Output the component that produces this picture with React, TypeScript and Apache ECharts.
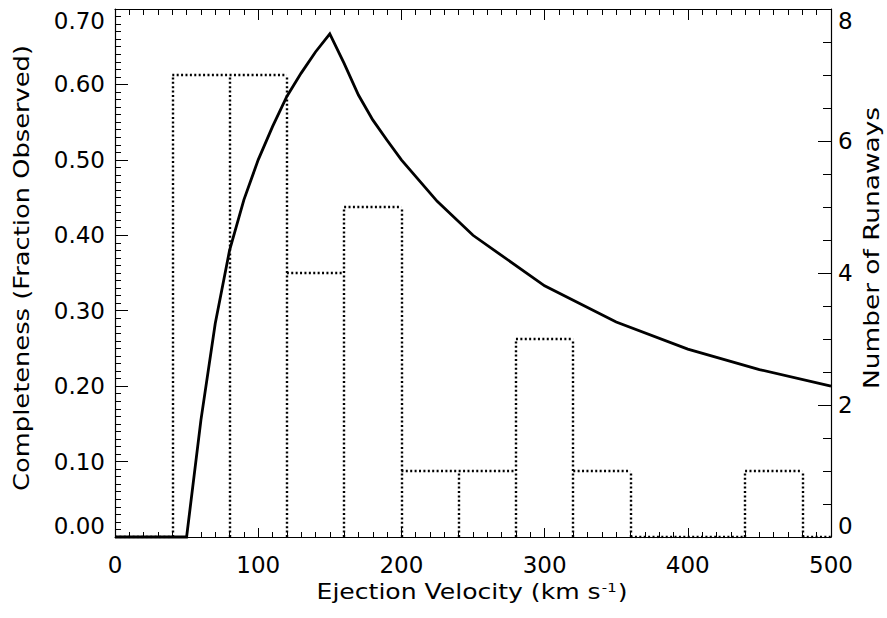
import React, { useEffect, useRef } from "react";
import * as echarts from "echarts";

// Completeness curve (solid line)
const velocity = [0, 50, 60, 70, 80, 90, 100, 110, 120, 130, 140, 150, 160, 170, 180, 190, 200, 225, 250, 300, 350, 400, 450, 500];
const completeness = [0, 0, 0.155, 0.283, 0.38, 0.447, 0.5, 0.544, 0.584, 0.615, 0.643, 0.667, 0.628, 0.586, 0.553, 0.526, 0.5, 0.445, 0.4, 0.333, 0.285, 0.249, 0.222, 0.2];

// Histogram of runaways (dotted outline)
const binEdges = [0, 40, 80, 120, 160, 200, 240, 280, 320, 360, 400, 440, 480, 520];
const runawayCounts = [0, 7, 7, 4, 5, 1, 1, 3, 1, 0, 0, 1, 0];

const X_MIN = 0;
const X_MAX = 500;
const FONT = '"DejaVu Sans", sans-serif';

function buildHistogramSegments() {
  const segs: { coords: number[][] }[] = [];
  for (let i = 0; i < runawayCounts.length; i++) {
    const lo = binEdges[i];
    const hi = Math.min(binEdges[i + 1], X_MAX);
    if (lo >= X_MAX) continue;
    const c = runawayCounts[i];
    segs.push({ coords: [[lo, c], [hi, c]] });
  }
  for (let j = 0; j < binEdges.length; j++) {
    const e = binEdges[j];
    if (e > X_MAX) continue;
    const left = j > 0 ? runawayCounts[j - 1] : 0;
    const right = j < runawayCounts.length ? runawayCounts[j] : 0;
    const h = Math.max(left, right);
    if (h > 0) segs.push({ coords: [[e, 0], [e, h]] });
  }
  return segs;
}

export default function App() {
  const ref = useRef<HTMLDivElement>(null);

  useEffect(() => {
    if (!ref.current) return;
    const chart = echarts.init(ref.current, null, { renderer: "svg" });
    const axisLine = { show: true, onZero: false, lineStyle: { color: "#000", width: 1.2 } };
    const tickStyle = { color: "#000", width: 1 };

    const option: any = {
      animation: false,
      backgroundColor: "#fff",
      grid: { left: 115, right: 56, top: 9, bottom: 81, containLabel: false },
      xAxis: [
        {
          type: "value",
          min: X_MIN,
          max: X_MAX,
          interval: 100,
          position: "bottom",
          axisLine,
          axisTick: { show: true, inside: true, length: 9, lineStyle: tickStyle },
          minorTick: { show: true, splitNumber: 10, length: 5, lineStyle: tickStyle },
          splitLine: { show: false },
          minorSplitLine: { show: false },
          axisLabel: { color: "#000", fontSize: 23, fontFamily: FONT, margin: 16 },
        },
        {
          type: "value",
          min: X_MIN,
          max: X_MAX,
          interval: 100,
          position: "top",
          axisLine,
          axisTick: { show: true, inside: true, length: 11, lineStyle: tickStyle },
          minorTick: { show: true, splitNumber: 10, length: 6, lineStyle: tickStyle },
          splitLine: { show: false },
          minorSplitLine: { show: false },
          axisLabel: { show: false },
        },
      ],
      yAxis: [
        {
          type: "value",
          min: 0,
          max: 0.7,
          interval: 0.1,
          position: "left",
          axisLine,
          axisTick: { show: true, inside: true, length: 13, lineStyle: tickStyle },
          minorTick: { show: true, splitNumber: 10, length: 6, lineStyle: tickStyle },
          splitLine: { show: false },
          minorSplitLine: { show: false },
          axisLabel: {
            color: "#000",
            fontSize: 23,
            fontFamily: FONT,
            margin: 10,
            formatter: (v: number) => v.toFixed(2),
            verticalAlignMinLabel: "bottom",
            verticalAlignMaxLabel: "top",
          },
        },
        {
          type: "value",
          min: 0,
          max: 8,
          interval: 2,
          position: "right",
          axisLine,
          axisTick: { show: true, inside: true, length: 13, lineStyle: tickStyle },
          minorTick: { show: true, splitNumber: 4, length: 8, lineStyle: tickStyle },
          splitLine: { show: false },
          minorSplitLine: { show: false },
          axisLabel: {
            color: "#000",
            fontSize: 23,
            fontFamily: FONT,
            margin: 7,
            verticalAlignMinLabel: "bottom",
            verticalAlignMaxLabel: "top",
          },
        },
      ],
      series: [
        {
          type: "lines",
          coordinateSystem: "cartesian2d",
          xAxisIndex: 0,
          yAxisIndex: 1,
          polyline: false,
          silent: true,
          z: 2,
          lineStyle: { color: "#000", width: 2.4, type: [2, 2.4], opacity: 1, cap: "butt" },
          data: buildHistogramSegments(),
        },
        {
          type: "line",
          xAxisIndex: 0,
          yAxisIndex: 0,
          data: velocity.map((v, i) => [v, completeness[i]]),
          showSymbol: false,
          symbol: "none",
          smooth: false,
          clip: false,
          z: 3,
          lineStyle: { color: "#000", width: 2.8, join: "miter" },
        },
      ],
      graphic: [
        {
          type: "text",
          x: 22,
          y: 268,
          rotation: Math.PI / 2,
          scaleX: 1.17,
          style: {
            text: "Completeness (Fraction Observed)",
            fontSize: 22,
            fontFamily: FONT,
            fill: "#000",
            align: "center",
            verticalAlign: "middle",
          },
        },
        {
          type: "text",
          x: 871,
          y: 248,
          rotation: Math.PI / 2,
          scaleX: 1.2,
          style: {
            text: "Number of Runaways",
            fontSize: 22,
            fontFamily: FONT,
            fill: "#000",
            align: "center",
            verticalAlign: "middle",
          },
        },
        {
          type: "text",
          x: 472,
          y: 592,
          scaleX: 1.14,
          style: {
            text: "Ejection Velocity (km s{sup|-1})",
            fontSize: 22,
            fontFamily: FONT,
            fill: "#000",
            align: "center",
            verticalAlign: "middle",
            rich: {
              sup: { fontSize: 13, fontFamily: FONT, fill: "#000", verticalAlign: "top", padding: [0, 1, 8, 1] },
            },
          },
        },
      ],
    };

    chart.setOption(option);
    return () => chart.dispose();
  }, []);

  return (
    <div
      ref={ref}
      style={{ position: "absolute", left: 0, top: 0, width: 887, height: 618 }}
    />
  );
}
